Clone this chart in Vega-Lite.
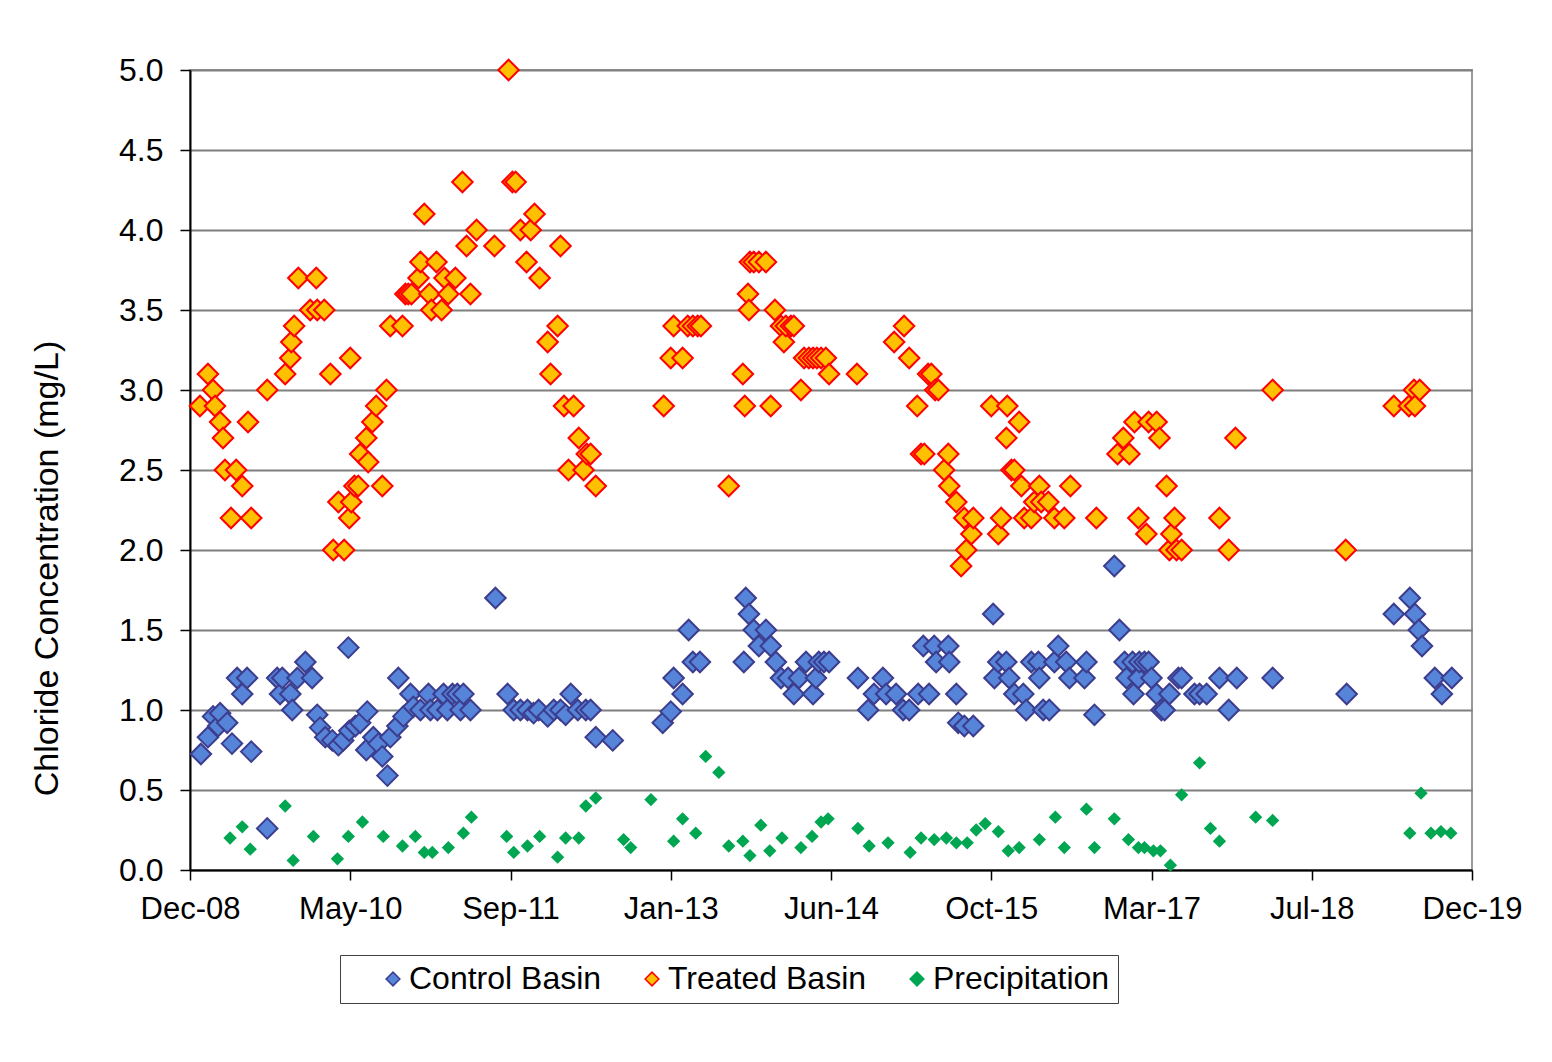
{
 "$schema": "https://vega.github.io/schema/vega-lite/v6.json",
 "width": 1282,
 "height": 800,
 "autosize": {"type": "none"},
 "padding": {"left": 190, "top": 70, "right": 80, "bottom": 192},
 "background": "white",
 "config": {"font": "Liberation Sans", "view": {"stroke": "#999999", "strokeWidth": 2}},
 "data": {"values": [
  {"d":"2009-01-20","s":"Treated Basin","v":2.9},{"d":"2009-02-14","s":"Treated Basin","v":3.1},{"d":"2009-03-02","s":"Treated Basin","v":3.0},{"d":"2009-03-08","s":"Treated Basin","v":2.9},{"d":"2009-03-24","s":"Treated Basin","v":2.8},{"d":"2009-04-02","s":"Treated Basin","v":2.7},{"d":"2009-04-08","s":"Treated Basin","v":2.5},{"d":"2009-04-27","s":"Treated Basin","v":2.2},{"d":"2009-05-13","s":"Treated Basin","v":2.5},{"d":"2009-06-01","s":"Treated Basin","v":2.4},{"d":"2009-06-19","s":"Treated Basin","v":2.8},{"d":"2009-06-29","s":"Treated Basin","v":2.2},{"d":"2009-08-18","s":"Treated Basin","v":3.0},{"d":"2009-10-13","s":"Treated Basin","v":3.1},{"d":"2009-10-29","s":"Treated Basin","v":3.2},{"d":"2009-11-01","s":"Treated Basin","v":3.3},{"d":"2009-11-10","s":"Treated Basin","v":3.4},{"d":"2009-11-23","s":"Treated Basin","v":3.7},{"d":"2009-12-30","s":"Treated Basin","v":3.5},{"d":"2010-01-18","s":"Treated Basin","v":3.7},{"d":"2010-01-21","s":"Treated Basin","v":3.5},{"d":"2010-02-12","s":"Treated Basin","v":3.5},{"d":"2010-03-03","s":"Treated Basin","v":3.1},{"d":"2010-03-12","s":"Treated Basin","v":2.0},{"d":"2010-03-28","s":"Treated Basin","v":2.3},{"d":"2010-04-15","s":"Treated Basin","v":2.0},{"d":"2010-05-01","s":"Treated Basin","v":2.2},{"d":"2010-05-04","s":"Treated Basin","v":3.2},{"d":"2010-05-07","s":"Treated Basin","v":2.3},{"d":"2010-05-17","s":"Treated Basin","v":2.4},{"d":"2010-05-29","s":"Treated Basin","v":2.4},{"d":"2010-06-04","s":"Treated Basin","v":2.6},{"d":"2010-06-23","s":"Treated Basin","v":2.7},{"d":"2010-06-29","s":"Treated Basin","v":2.55},{"d":"2010-07-12","s":"Treated Basin","v":2.8},{"d":"2010-07-24","s":"Treated Basin","v":2.9},{"d":"2010-08-12","s":"Treated Basin","v":2.4},{"d":"2010-08-25","s":"Treated Basin","v":3.0},{"d":"2010-09-06","s":"Treated Basin","v":3.4},{"d":"2010-10-14","s":"Treated Basin","v":3.4},{"d":"2010-10-23","s":"Treated Basin","v":3.6},{"d":"2010-11-01","s":"Treated Basin","v":3.6},{"d":"2010-11-11","s":"Treated Basin","v":3.6},{"d":"2010-12-03","s":"Treated Basin","v":3.7},{"d":"2010-12-09","s":"Treated Basin","v":3.8},{"d":"2010-12-21","s":"Treated Basin","v":4.1},{"d":"2011-01-06","s":"Treated Basin","v":3.6},{"d":"2011-01-12","s":"Treated Basin","v":3.5},{"d":"2011-01-28","s":"Treated Basin","v":3.8},{"d":"2011-02-13","s":"Treated Basin","v":3.5},{"d":"2011-02-22","s":"Treated Basin","v":3.7},{"d":"2011-03-06","s":"Treated Basin","v":3.6},{"d":"2011-03-28","s":"Treated Basin","v":3.7},{"d":"2011-04-19","s":"Treated Basin","v":4.3},{"d":"2011-05-02","s":"Treated Basin","v":3.9},{"d":"2011-05-14","s":"Treated Basin","v":3.6},{"d":"2011-06-02","s":"Treated Basin","v":4.0},{"d":"2011-07-28","s":"Treated Basin","v":3.9},{"d":"2011-09-10","s":"Treated Basin","v":5.0},{"d":"2011-09-22","s":"Treated Basin","v":4.3},{"d":"2011-10-02","s":"Treated Basin","v":4.3},{"d":"2011-10-17","s":"Treated Basin","v":4.0},{"d":"2011-11-05","s":"Treated Basin","v":3.8},{"d":"2011-11-18","s":"Treated Basin","v":4.0},{"d":"2011-11-30","s":"Treated Basin","v":4.1},{"d":"2011-12-16","s":"Treated Basin","v":3.7},{"d":"2012-01-10","s":"Treated Basin","v":3.3},{"d":"2012-01-19","s":"Treated Basin","v":3.1},{"d":"2012-02-10","s":"Treated Basin","v":3.4},{"d":"2012-02-19","s":"Treated Basin","v":3.9},{"d":"2012-03-01","s":"Treated Basin","v":2.9},{"d":"2012-03-15","s":"Treated Basin","v":2.5},{"d":"2012-03-31","s":"Treated Basin","v":2.9},{"d":"2012-04-16","s":"Treated Basin","v":2.7},{"d":"2012-05-01","s":"Treated Basin","v":2.5},{"d":"2012-05-11","s":"Treated Basin","v":2.6},{"d":"2012-05-23","s":"Treated Basin","v":2.6},{"d":"2012-06-08","s":"Treated Basin","v":2.4},{"d":"2013-01-06","s":"Treated Basin","v":2.9},{"d":"2013-01-28","s":"Treated Basin","v":3.2},{"d":"2013-02-06","s":"Treated Basin","v":3.4},{"d":"2013-03-06","s":"Treated Basin","v":3.2},{"d":"2013-03-22","s":"Treated Basin","v":3.4},{"d":"2013-04-07","s":"Treated Basin","v":3.4},{"d":"2013-04-22","s":"Treated Basin","v":3.4},{"d":"2013-05-02","s":"Treated Basin","v":3.4},{"d":"2013-07-28","s":"Treated Basin","v":2.4},{"d":"2013-09-10","s":"Treated Basin","v":3.1},{"d":"2013-09-16","s":"Treated Basin","v":2.9},{"d":"2013-09-26","s":"Treated Basin","v":3.6},{"d":"2013-09-29","s":"Treated Basin","v":3.5},{"d":"2013-10-02","s":"Treated Basin","v":3.8},{"d":"2013-10-14","s":"Treated Basin","v":3.8},{"d":"2013-10-30","s":"Treated Basin","v":3.8},{"d":"2013-11-21","s":"Treated Basin","v":3.8},{"d":"2013-12-06","s":"Treated Basin","v":2.9},{"d":"2013-12-19","s":"Treated Basin","v":3.5},{"d":"2014-01-07","s":"Treated Basin","v":3.4},{"d":"2014-01-16","s":"Treated Basin","v":3.3},{"d":"2014-01-22","s":"Treated Basin","v":3.4},{"d":"2014-02-07","s":"Treated Basin","v":3.4},{"d":"2014-02-16","s":"Treated Basin","v":3.4},{"d":"2014-03-10","s":"Treated Basin","v":3.0},{"d":"2014-03-20","s":"Treated Basin","v":3.2},{"d":"2014-04-04","s":"Treated Basin","v":3.2},{"d":"2014-04-17","s":"Treated Basin","v":3.2},{"d":"2014-04-29","s":"Treated Basin","v":3.2},{"d":"2014-05-12","s":"Treated Basin","v":3.2},{"d":"2014-05-27","s":"Treated Basin","v":3.2},{"d":"2014-06-06","s":"Treated Basin","v":3.1},{"d":"2014-09-01","s":"Treated Basin","v":3.1},{"d":"2014-12-26","s":"Treated Basin","v":3.3},{"d":"2015-01-26","s":"Treated Basin","v":3.4},{"d":"2015-02-11","s":"Treated Basin","v":3.2},{"d":"2015-03-08","s":"Treated Basin","v":2.9},{"d":"2015-03-20","s":"Treated Basin","v":2.6},{"d":"2015-03-30","s":"Treated Basin","v":2.6},{"d":"2015-04-11","s":"Treated Basin","v":3.1},{"d":"2015-04-21","s":"Treated Basin","v":3.1},{"d":"2015-05-03","s":"Treated Basin","v":3.0},{"d":"2015-05-13","s":"Treated Basin","v":3.0},{"d":"2015-05-31","s":"Treated Basin","v":2.5},{"d":"2015-06-13","s":"Treated Basin","v":2.6},{"d":"2015-06-16","s":"Treated Basin","v":2.4},{"d":"2015-07-08","s":"Treated Basin","v":2.3},{"d":"2015-07-23","s":"Treated Basin","v":1.9},{"d":"2015-08-02","s":"Treated Basin","v":2.2},{"d":"2015-08-08","s":"Treated Basin","v":2.0},{"d":"2015-08-24","s":"Treated Basin","v":2.1},{"d":"2015-08-30","s":"Treated Basin","v":2.2},{"d":"2015-10-25","s":"Treated Basin","v":2.9},{"d":"2015-11-16","s":"Treated Basin","v":2.1},{"d":"2015-11-25","s":"Treated Basin","v":2.2},{"d":"2015-12-11","s":"Treated Basin","v":2.7},{"d":"2015-12-14","s":"Treated Basin","v":2.9},{"d":"2015-12-27","s":"Treated Basin","v":2.5},{"d":"2016-01-05","s":"Treated Basin","v":2.5},{"d":"2016-01-20","s":"Treated Basin","v":2.8},{"d":"2016-01-27","s":"Treated Basin","v":2.4},{"d":"2016-02-05","s":"Treated Basin","v":2.2},{"d":"2016-02-27","s":"Treated Basin","v":2.2},{"d":"2016-03-07","s":"Treated Basin","v":2.3},{"d":"2016-03-23","s":"Treated Basin","v":2.4},{"d":"2016-03-29","s":"Treated Basin","v":2.3},{"d":"2016-04-20","s":"Treated Basin","v":2.3},{"d":"2016-05-09","s":"Treated Basin","v":2.2},{"d":"2016-06-09","s":"Treated Basin","v":2.2},{"d":"2016-06-28","s":"Treated Basin","v":2.4},{"d":"2016-09-17","s":"Treated Basin","v":2.2},{"d":"2016-11-22","s":"Treated Basin","v":2.6},{"d":"2016-12-10","s":"Treated Basin","v":2.7},{"d":"2016-12-29","s":"Treated Basin","v":2.6},{"d":"2017-01-14","s":"Treated Basin","v":2.8},{"d":"2017-01-26","s":"Treated Basin","v":2.2},{"d":"2017-02-20","s":"Treated Basin","v":2.1},{"d":"2017-02-27","s":"Treated Basin","v":2.8},{"d":"2017-03-24","s":"Treated Basin","v":2.8},{"d":"2017-04-02","s":"Treated Basin","v":2.7},{"d":"2017-04-24","s":"Treated Basin","v":2.4},{"d":"2017-05-03","s":"Treated Basin","v":2.0},{"d":"2017-05-09","s":"Treated Basin","v":2.1},{"d":"2017-05-19","s":"Treated Basin","v":2.2},{"d":"2017-05-25","s":"Treated Basin","v":2.0},{"d":"2017-06-10","s":"Treated Basin","v":2.0},{"d":"2017-10-06","s":"Treated Basin","v":2.2},{"d":"2017-11-04","s":"Treated Basin","v":2.0},{"d":"2017-11-25","s":"Treated Basin","v":2.7},{"d":"2018-03-21","s":"Treated Basin","v":3.0},{"d":"2018-11-04","s":"Treated Basin","v":2.0},{"d":"2019-04-03","s":"Treated Basin","v":2.9},{"d":"2019-05-20","s":"Treated Basin","v":2.9},{"d":"2019-06-05","s":"Treated Basin","v":3.0},{"d":"2019-06-08","s":"Treated Basin","v":2.9},{"d":"2019-06-23","s":"Treated Basin","v":3.0},
  {"d":"2009-01-23","s":"Control Basin","v":0.725},{"d":"2009-02-14","s":"Control Basin","v":0.83},{"d":"2009-03-02","s":"Control Basin","v":0.96},{"d":"2009-03-18","s":"Control Basin","v":0.9},{"d":"2009-03-24","s":"Control Basin","v":0.98},{"d":"2009-04-15","s":"Control Basin","v":0.92},{"d":"2009-04-30","s":"Control Basin","v":0.79},{"d":"2009-05-16","s":"Control Basin","v":1.2},{"d":"2009-06-01","s":"Control Basin","v":1.1},{"d":"2009-06-16","s":"Control Basin","v":1.2},{"d":"2009-06-29","s":"Control Basin","v":0.74},{"d":"2009-08-18","s":"Control Basin","v":0.26},{"d":"2009-09-18","s":"Control Basin","v":1.2},{"d":"2009-09-27","s":"Control Basin","v":1.1},{"d":"2009-10-04","s":"Control Basin","v":1.2},{"d":"2009-10-29","s":"Control Basin","v":1.1},{"d":"2009-11-04","s":"Control Basin","v":1.0},{"d":"2009-11-20","s":"Control Basin","v":1.2},{"d":"2009-12-15","s":"Control Basin","v":1.3},{"d":"2010-01-05","s":"Control Basin","v":1.2},{"d":"2010-01-21","s":"Control Basin","v":0.97},{"d":"2010-01-30","s":"Control Basin","v":0.89},{"d":"2010-02-15","s":"Control Basin","v":0.83},{"d":"2010-03-09","s":"Control Basin","v":0.81},{"d":"2010-03-28","s":"Control Basin","v":0.78},{"d":"2010-04-12","s":"Control Basin","v":0.81},{"d":"2010-04-28","s":"Control Basin","v":1.39},{"d":"2010-05-01","s":"Control Basin","v":0.87},{"d":"2010-05-20","s":"Control Basin","v":0.9},{"d":"2010-06-04","s":"Control Basin","v":0.92},{"d":"2010-06-23","s":"Control Basin","v":0.75},{"d":"2010-06-26","s":"Control Basin","v":0.99},{"d":"2010-07-15","s":"Control Basin","v":0.83},{"d":"2010-07-31","s":"Control Basin","v":0.79},{"d":"2010-08-12","s":"Control Basin","v":0.71},{"d":"2010-08-28","s":"Control Basin","v":0.59},{"d":"2010-09-06","s":"Control Basin","v":0.83},{"d":"2010-09-28","s":"Control Basin","v":0.9},{"d":"2010-10-01","s":"Control Basin","v":1.2},{"d":"2010-10-17","s":"Control Basin","v":0.96},{"d":"2010-11-08","s":"Control Basin","v":1.1},{"d":"2010-11-17","s":"Control Basin","v":1.02},{"d":"2010-12-09","s":"Control Basin","v":1.0},{"d":"2011-01-03","s":"Control Basin","v":1.1},{"d":"2011-01-09","s":"Control Basin","v":1.0},{"d":"2011-01-31","s":"Control Basin","v":1.0},{"d":"2011-02-19","s":"Control Basin","v":1.1},{"d":"2011-03-03","s":"Control Basin","v":1.0},{"d":"2011-03-19","s":"Control Basin","v":1.1},{"d":"2011-04-03","s":"Control Basin","v":1.1},{"d":"2011-04-13","s":"Control Basin","v":1.0},{"d":"2011-04-22","s":"Control Basin","v":1.1},{"d":"2011-05-14","s":"Control Basin","v":1.0},{"d":"2011-07-31","s":"Control Basin","v":1.7},{"d":"2011-09-07","s":"Control Basin","v":1.1},{"d":"2011-09-26","s":"Control Basin","v":1.0},{"d":"2011-10-17","s":"Control Basin","v":1.0},{"d":"2011-11-08","s":"Control Basin","v":1.0},{"d":"2011-11-27","s":"Control Basin","v":0.98},{"d":"2011-12-13","s":"Control Basin","v":1.0},{"d":"2012-01-10","s":"Control Basin","v":0.96},{"d":"2012-01-29","s":"Control Basin","v":1.0},{"d":"2012-02-19","s":"Control Basin","v":1.0},{"d":"2012-03-06","s":"Control Basin","v":0.97},{"d":"2012-03-22","s":"Control Basin","v":1.1},{"d":"2012-04-13","s":"Control Basin","v":1.0},{"d":"2012-05-08","s":"Control Basin","v":1.0},{"d":"2012-05-23","s":"Control Basin","v":1.0},{"d":"2012-06-08","s":"Control Basin","v":0.83},{"d":"2012-07-31","s":"Control Basin","v":0.81},{"d":"2013-01-03","s":"Control Basin","v":0.92},{"d":"2013-01-28","s":"Control Basin","v":0.99},{"d":"2013-02-06","s":"Control Basin","v":1.2},{"d":"2013-03-06","s":"Control Basin","v":1.1},{"d":"2013-03-25","s":"Control Basin","v":1.5},{"d":"2013-04-07","s":"Control Basin","v":1.3},{"d":"2013-04-29","s":"Control Basin","v":1.3},{"d":"2013-09-13","s":"Control Basin","v":1.3},{"d":"2013-09-19","s":"Control Basin","v":1.7},{"d":"2013-09-29","s":"Control Basin","v":1.6},{"d":"2013-10-14","s":"Control Basin","v":1.5},{"d":"2013-10-30","s":"Control Basin","v":1.4},{"d":"2013-11-21","s":"Control Basin","v":1.5},{"d":"2013-12-06","s":"Control Basin","v":1.4},{"d":"2013-12-22","s":"Control Basin","v":1.3},{"d":"2014-01-07","s":"Control Basin","v":1.2},{"d":"2014-01-29","s":"Control Basin","v":1.2},{"d":"2014-02-16","s":"Control Basin","v":1.1},{"d":"2014-03-04","s":"Control Basin","v":1.2},{"d":"2014-03-26","s":"Control Basin","v":1.3},{"d":"2014-04-17","s":"Control Basin","v":1.1},{"d":"2014-04-26","s":"Control Basin","v":1.2},{"d":"2014-05-05","s":"Control Basin","v":1.3},{"d":"2014-05-21","s":"Control Basin","v":1.3},{"d":"2014-06-06","s":"Control Basin","v":1.3},{"d":"2014-09-04","s":"Control Basin","v":1.2},{"d":"2014-10-06","s":"Control Basin","v":1.0},{"d":"2014-10-24","s":"Control Basin","v":1.1},{"d":"2014-11-21","s":"Control Basin","v":1.2},{"d":"2014-12-01","s":"Control Basin","v":1.1},{"d":"2015-01-01","s":"Control Basin","v":1.1},{"d":"2015-01-23","s":"Control Basin","v":1.0},{"d":"2015-02-11","s":"Control Basin","v":1.0},{"d":"2015-03-11","s":"Control Basin","v":1.1},{"d":"2015-03-27","s":"Control Basin","v":1.4},{"d":"2015-04-14","s":"Control Basin","v":1.1},{"d":"2015-04-30","s":"Control Basin","v":1.4},{"d":"2015-05-06","s":"Control Basin","v":1.3},{"d":"2015-06-13","s":"Control Basin","v":1.4},{"d":"2015-06-16","s":"Control Basin","v":1.3},{"d":"2015-07-08","s":"Control Basin","v":1.1},{"d":"2015-07-14","s":"Control Basin","v":0.92},{"d":"2015-08-02","s":"Control Basin","v":0.9},{"d":"2015-08-30","s":"Control Basin","v":0.9},{"d":"2015-10-31","s":"Control Basin","v":1.6},{"d":"2015-11-04","s":"Control Basin","v":1.2},{"d":"2015-11-16","s":"Control Basin","v":1.3},{"d":"2015-12-11","s":"Control Basin","v":1.3},{"d":"2015-12-20","s":"Control Basin","v":1.2},{"d":"2016-01-05","s":"Control Basin","v":1.1},{"d":"2016-02-02","s":"Control Basin","v":1.1},{"d":"2016-02-11","s":"Control Basin","v":1.0},{"d":"2016-02-27","s":"Control Basin","v":1.3},{"d":"2016-03-20","s":"Control Basin","v":1.3},{"d":"2016-03-23","s":"Control Basin","v":1.2},{"d":"2016-04-04","s":"Control Basin","v":1.0},{"d":"2016-04-23","s":"Control Basin","v":1.0},{"d":"2016-05-09","s":"Control Basin","v":1.3},{"d":"2016-05-21","s":"Control Basin","v":1.4},{"d":"2016-06-15","s":"Control Basin","v":1.3},{"d":"2016-06-25","s":"Control Basin","v":1.2},{"d":"2016-08-11","s":"Control Basin","v":1.2},{"d":"2016-08-17","s":"Control Basin","v":1.3},{"d":"2016-09-11","s":"Control Basin","v":0.97},{"d":"2016-11-12","s":"Control Basin","v":1.9},{"d":"2016-11-28","s":"Control Basin","v":1.5},{"d":"2016-12-14","s":"Control Basin","v":1.3},{"d":"2016-12-20","s":"Control Basin","v":1.2},{"d":"2017-01-08","s":"Control Basin","v":1.3},{"d":"2017-01-11","s":"Control Basin","v":1.1},{"d":"2017-01-26","s":"Control Basin","v":1.2},{"d":"2017-01-29","s":"Control Basin","v":1.3},{"d":"2017-02-14","s":"Control Basin","v":1.3},{"d":"2017-02-27","s":"Control Basin","v":1.3},{"d":"2017-03-08","s":"Control Basin","v":1.2},{"d":"2017-03-24","s":"Control Basin","v":1.1},{"d":"2017-04-08","s":"Control Basin","v":1.0},{"d":"2017-04-18","s":"Control Basin","v":1.0},{"d":"2017-05-03","s":"Control Basin","v":1.1},{"d":"2017-05-31","s":"Control Basin","v":1.2},{"d":"2017-06-10","s":"Control Basin","v":1.2},{"d":"2017-07-20","s":"Control Basin","v":1.1},{"d":"2017-08-05","s":"Control Basin","v":1.1},{"d":"2017-08-27","s":"Control Basin","v":1.1},{"d":"2017-10-06","s":"Control Basin","v":1.2},{"d":"2017-11-04","s":"Control Basin","v":1.0},{"d":"2017-11-29","s":"Control Basin","v":1.2},{"d":"2018-03-21","s":"Control Basin","v":1.2},{"d":"2018-11-07","s":"Control Basin","v":1.1},{"d":"2019-04-03","s":"Control Basin","v":1.6},{"d":"2019-05-23","s":"Control Basin","v":1.7},{"d":"2019-06-08","s":"Control Basin","v":1.6},{"d":"2019-06-20","s":"Control Basin","v":1.5},{"d":"2019-06-30","s":"Control Basin","v":1.4},{"d":"2019-08-09","s":"Control Basin","v":1.2},{"d":"2019-08-31","s":"Control Basin","v":1.1},{"d":"2019-10-01","s":"Control Basin","v":1.2},
  {"d":"2009-04-24","s":"Precipitation","v":0.2},{"d":"2009-06-01","s":"Precipitation","v":0.27},{"d":"2009-06-26","s":"Precipitation","v":0.13},{"d":"2009-10-13","s":"Precipitation","v":0.4},{"d":"2009-11-07","s":"Precipitation","v":0.06},{"d":"2010-01-09","s":"Precipitation","v":0.21},{"d":"2010-03-25","s":"Precipitation","v":0.07},{"d":"2010-04-28","s":"Precipitation","v":0.21},{"d":"2010-06-11","s":"Precipitation","v":0.3},{"d":"2010-08-15","s":"Precipitation","v":0.21},{"d":"2010-10-14","s":"Precipitation","v":0.15},{"d":"2010-11-23","s":"Precipitation","v":0.21},{"d":"2010-12-21","s":"Precipitation","v":0.11},{"d":"2011-01-15","s":"Precipitation","v":0.11},{"d":"2011-03-06","s":"Precipitation","v":0.14},{"d":"2011-04-22","s":"Precipitation","v":0.23},{"d":"2011-05-17","s":"Precipitation","v":0.33},{"d":"2011-09-04","s":"Precipitation","v":0.21},{"d":"2011-09-26","s":"Precipitation","v":0.11},{"d":"2011-11-08","s":"Precipitation","v":0.15},{"d":"2011-12-16","s":"Precipitation","v":0.21},{"d":"2012-02-10","s":"Precipitation","v":0.08},{"d":"2012-03-06","s":"Precipitation","v":0.2},{"d":"2012-04-16","s":"Precipitation","v":0.2},{"d":"2012-05-08","s":"Precipitation","v":0.4},{"d":"2012-06-08","s":"Precipitation","v":0.45},{"d":"2012-09-03","s":"Precipitation","v":0.19},{"d":"2012-09-25","s":"Precipitation","v":0.14},{"d":"2012-11-27","s":"Precipitation","v":0.44},{"d":"2013-02-06","s":"Precipitation","v":0.18},{"d":"2013-03-06","s":"Precipitation","v":0.32},{"d":"2013-04-16","s":"Precipitation","v":0.23},{"d":"2013-05-17","s":"Precipitation","v":0.71},{"d":"2013-06-27","s":"Precipitation","v":0.61},{"d":"2013-07-28","s":"Precipitation","v":0.15},{"d":"2013-09-10","s":"Precipitation","v":0.18},{"d":"2013-10-02","s":"Precipitation","v":0.09},{"d":"2013-11-05","s":"Precipitation","v":0.28},{"d":"2013-12-03","s":"Precipitation","v":0.12},{"d":"2014-01-10","s":"Precipitation","v":0.2},{"d":"2014-03-10","s":"Precipitation","v":0.14},{"d":"2014-04-14","s":"Precipitation","v":0.21},{"d":"2014-05-12","s":"Precipitation","v":0.3},{"d":"2014-06-03","s":"Precipitation","v":0.32},{"d":"2014-09-04","s":"Precipitation","v":0.26},{"d":"2014-10-09","s":"Precipitation","v":0.15},{"d":"2014-12-07","s":"Precipitation","v":0.17},{"d":"2015-02-14","s":"Precipitation","v":0.11},{"d":"2015-03-20","s":"Precipitation","v":0.2},{"d":"2015-04-30","s":"Precipitation","v":0.19},{"d":"2015-06-07","s":"Precipitation","v":0.2},{"d":"2015-07-08","s":"Precipitation","v":0.17},{"d":"2015-08-11","s":"Precipitation","v":0.17},{"d":"2015-09-08","s":"Precipitation","v":0.25},{"d":"2015-10-06","s":"Precipitation","v":0.29},{"d":"2015-11-16","s":"Precipitation","v":0.24},{"d":"2015-12-17","s":"Precipitation","v":0.12},{"d":"2016-01-20","s":"Precipitation","v":0.14},{"d":"2016-03-23","s":"Precipitation","v":0.19},{"d":"2016-05-12","s":"Precipitation","v":0.33},{"d":"2016-06-09","s":"Precipitation","v":0.14},{"d":"2016-08-17","s":"Precipitation","v":0.38},{"d":"2016-09-11","s":"Precipitation","v":0.14},{"d":"2016-11-12","s":"Precipitation","v":0.32},{"d":"2016-12-26","s":"Precipitation","v":0.19},{"d":"2017-01-26","s":"Precipitation","v":0.14},{"d":"2017-02-14","s":"Precipitation","v":0.14},{"d":"2017-03-14","s":"Precipitation","v":0.12},{"d":"2017-04-05","s":"Precipitation","v":0.12},{"d":"2017-05-06","s":"Precipitation","v":0.03},{"d":"2017-06-10","s":"Precipitation","v":0.47},{"d":"2017-08-05","s":"Precipitation","v":0.67},{"d":"2017-09-08","s":"Precipitation","v":0.26},{"d":"2017-10-06","s":"Precipitation","v":0.18},{"d":"2018-01-27","s":"Precipitation","v":0.33},{"d":"2018-03-21","s":"Precipitation","v":0.31},{"d":"2019-05-23","s":"Precipitation","v":0.23},{"d":"2019-06-27","s":"Precipitation","v":0.48},{"d":"2019-07-28","s":"Precipitation","v":0.23},{"d":"2019-08-28","s":"Precipitation","v":0.24},{"d":"2019-09-28","s":"Precipitation","v":0.23}
 ]},
 "encoding": {
  "x": {"field": "d", "type": "temporal",
   "scale": {"type": "utc", "domain": [{"year": 2008, "month": 12, "date": 20, "utc": true}, {"year": 2019, "month": 12, "date": 3, "utc": true}]},
   "axis": {"title": null, "grid": false, "labelExpr": "utcFormat(datum.value, '%b-%y')",
    "values": [{"year": 2008, "month": 12, "date": 20, "utc": true}, {"year": 2010, "month": 5, "date": 4, "utc": true}, {"year": 2011, "month": 9, "date": 16, "utc": true}, {"year": 2013, "month": 1, "date": 28, "utc": true}, {"year": 2014, "month": 6, "date": 12, "utc": true}, {"year": 2015, "month": 10, "date": 25, "utc": true}, {"year": 2017, "month": 3, "date": 8, "utc": true}, {"year": 2018, "month": 7, "date": 21, "utc": true}, {"year": 2019, "month": 12, "date": 3, "utc": true}],
    "tickSize": 10, "tickColor": "black", "tickWidth": 1.5, "domainColor": "black", "domainWidth": 2,
    "labelFontSize": 31, "labelColor": "black", "labelPadding": 14, "labelOverlap": false, "labelFlush": false}},
  "y": {"field": "v", "type": "quantitative", "scale": {"domain": [0, 5]},
   "axis": {"title": "Chloride Concentration (mg/L)", "titleFontSize": 34, "titleFontWeight": "normal", "titleColor": "black", "titlePadding": 54, "titleY": 498,
    "values": [0, 0.5, 1, 1.5, 2, 2.5, 3, 3.5, 4, 4.5, 5], "format": ".1f",
    "grid": true, "gridColor": "#7f7f7f", "gridWidth": 2, "tickSize": 10, "tickColor": "black", "tickWidth": 1.5,
    "domainColor": "black", "domainWidth": 2, "labelFontSize": 32, "labelColor": "black", "labelPadding": 17}},
  "fill": {"field": "s", "type": "nominal", "title": null,
   "scale": {"domain": ["Control Basin", "Treated Basin", "Precipitation"], "range": ["#5584D8", "#FFC000", "#00A651"]},
   "legend": {"orient": "none", "legendX": 150, "legendY": 885, "direction": "horizontal", "title": " ", "titleOrient": "left", "titleFontSize": 31, "titlePadding": 29, "strokeColor": "#404040", "fillColor": "white", "padding": 8, "labelFontSize": 32, "labelColor": "black", "labelLimit": 500, "labelExpr": "datum.label === 'Precipitation' ? datum.label + '\u00a0\u00a0\u00a0\u00a0\u00a0\u00a0' : datum.label", "symbolSize": 190, "symbolType": "diamond", "symbolStrokeWidth": 1.5, "columnPadding": 34, "labelOffset": 0}},
  "stroke": {"field": "s", "type": "nominal", "title": null,
   "scale": {"domain": ["Control Basin", "Treated Basin", "Precipitation"], "range": ["#3D3D8F", "#FF0000", "#00A651"]},
   "legend": {"orient": "none", "legendX": 150, "legendY": 885, "direction": "horizontal", "title": " ", "titleOrient": "left", "titleFontSize": 31, "titlePadding": 29, "strokeColor": "#404040", "fillColor": "white", "padding": 8, "labelFontSize": 32, "labelColor": "black", "labelLimit": 500, "labelExpr": "datum.label === 'Precipitation' ? datum.label + '\u00a0\u00a0\u00a0\u00a0\u00a0\u00a0' : datum.label", "symbolSize": 190, "symbolType": "diamond", "symbolStrokeWidth": 1.5, "columnPadding": 34, "labelOffset": 0}}
 },
 "layer": [
  {"transform": [{"filter": "datum.s !== 'Precipitation'"}],
   "mark": {"type": "point", "shape": "diamond", "filled": true, "opacity": 1, "strokeWidth": 2, "size": 420}},
  {"transform": [{"filter": "datum.s === 'Precipitation'"}],
   "mark": {"type": "point", "shape": "diamond", "filled": true, "opacity": 1, "strokeWidth": 2, "size": 110}}
 ]
}
